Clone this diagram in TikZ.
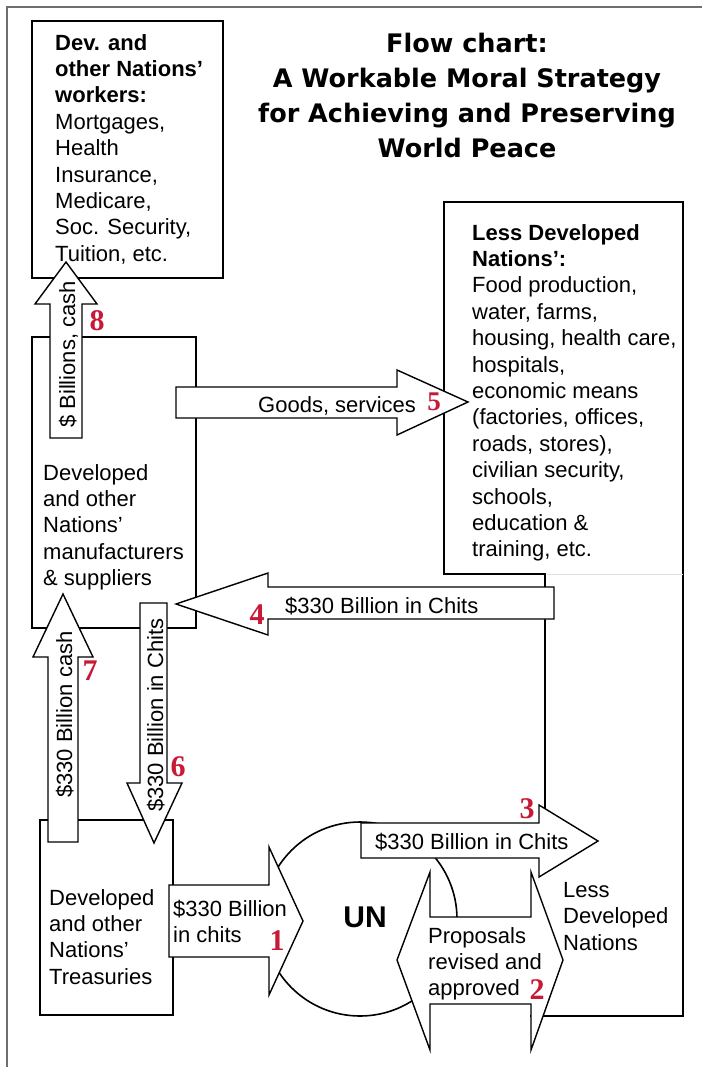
\documentclass[tikz,border=0pt]{standalone}
\usepackage{fontspec}
\setmainfont{Liberation Sans}
\newfontfamily\titlefont{DejaVu Sans}
\newfontfamily\numfont{Liberation Serif}
\definecolor{numred}{RGB}{200,25,55}
\definecolor{framegray}{RGB}{110,110,110}
\begin{document}
\begin{tikzpicture}[x=1pt,y=-1pt,line join=miter]
\tikzset{
  box/.style={draw=black,line width=1.6pt},
  arr/.style={draw=black,fill=white,line width=1.4pt},
  txt/.style={inner sep=0pt,font=\fontsize{22}{26.4}\selectfont,align=left,anchor=north west},
  ltxt/.style={inner sep=0pt,font=\fontsize{22}{26.4}\selectfont,anchor=base west},
  num/.style={inner sep=0pt,text=numred,font=\numfont\bfseries\fontsize{30}{30}\selectfont},
  titlestyle/.style={inner sep=0pt,align=center,anchor=north,font=\titlefont\bfseries\fontsize{25.5}{35}\selectfont}
}
\useasboundingbox (0,0) rectangle (702,1067);
\fill[white] (0,0) rectangle (702,1067);
% frame
\draw[framegray,line width=2pt] (7,1067) -- (7,7) -- (702,7);
% boxes
\draw[box] (32,21) rectangle (223,278);
\draw[box] (32,337) rectangle (196,628);
\draw[box] (40,820) rectangle (173,1015);
\draw[box] (545,840) -- (545,574) -- (444,574) -- (444,202) -- (683,202) -- (683,1016) -- (530,1016);
\draw[gray!25,line width=1pt] (547,574) -- (683,574);
% UN circle
\draw[box] (360,919) circle[radius=97pt];
% block arrows
\draw[arr] (50,438) -- (50,304) -- (35,304) -- (66,262) -- (97,304) -- (82,304) -- (82,438) -- cycle;
\draw[arr] (176,387) -- (397,387) -- (397,370) -- (468,402) -- (397,435) -- (397,418) -- (176,418) -- cycle;
\draw[arr] (554,587) -- (268,587) -- (268,573) -- (176,604) -- (268,635) -- (268,619) -- (554,619) -- cycle;
\draw[arr] (48,842) -- (48,657) -- (33,657) -- (63,594) -- (93,657) -- (78,657) -- (78,842) -- cycle;
\draw[arr] (140,603) -- (167,603) -- (167,783) -- (182,783) -- (154,843) -- (127,783) -- (140,783) -- cycle;
\draw[arr] (169,885) -- (269,885) -- (269,847) -- (303,921) -- (269,995) -- (269,957) -- (169,957) -- cycle;
\draw[arr] (361,823) -- (539,823) -- (539,805) -- (598,841) -- (539,877) -- (539,858) -- (361,858) -- cycle;
\draw[arr] (397,960) -- (430,872) -- (430,917) -- (531,917) -- (531,872) -- (563,960) -- (531,1050) -- (531,1004) -- (430,1004) -- (430,1050) -- cycle;
% title
\node[titlestyle] (title) at (467,33) {Flow chart:\\A Workable Moral Strategy\\for Achieving and Preserving\\World Peace};
% box texts
\node[txt] (workers) at (55,34) {\textbf{Dev. and}\\\textbf{other Nations’}\\\textbf{workers:}\\Mortgages,\\Health\\Insurance,\\Medicare,\\Soc. Security,\\Tuition, etc.};
\node[txt] (ldn) at (472,224) {\textbf{Less Developed}\\\textbf{Nations’:}\\Food production,\\water, farms,\\housing, health care,\\hospitals,\\economic means\\(factories, offices,\\roads, stores),\\civilian security,\\schools,\\education \&\\training, etc.};
\node[txt] (manuf) at (43,464) {Developed\\and other\\Nations’\\manufacturers\\\& suppliers};
\node[txt] (treas) at (49,889) {Developed\\and other\\Nations’\\Treasuries};
\node[txt] (ldn2) at (563,882) {Less\\Developed\\Nations};
\node[font=\bfseries\fontsize{30}{30}\selectfont,inner sep=0pt] (un) at (365,917) {UN};
% arrow labels
\node[txt] (l1) at (173,900) {\$330 Billion\\in chits};
\node[txt] (l2) at (428,927) {Proposals\\revised and\\approved};
\node[ltxt] (l3) at (375,849) {\$330 Billion in Chits};
\node[ltxt] (l4) at (285,613) {\$330 Billion in Chits};
\node[ltxt] (l5) at (258,412) {Goods, services};
\node[ltxt,rotate=90] (l6) at (163,812) {\$330 Billion in Chits};
\node[ltxt,rotate=90] (l7) at (72,798) {\$330 Billion cash};
\node[ltxt,rotate=90] (l8) at (75,428) {\$ Billions, cash};
% step numbers
\node[num] (n1) at (277,941) {1};
\node[num] (n2) at (537,990) {2};
\node[num] (n3) at (527,809) {3};
\node[num] (n4) at (257,615) {4};
\node[num,font=\numfont\bfseries\fontsize{27}{27}\selectfont] (n5) at (434,402) {5};
\node[num] (n6) at (178,767) {6};
\node[num] (n7) at (90,671) {7};
\node[num] (n8) at (97,321) {8};
\end{tikzpicture}
\end{document}
